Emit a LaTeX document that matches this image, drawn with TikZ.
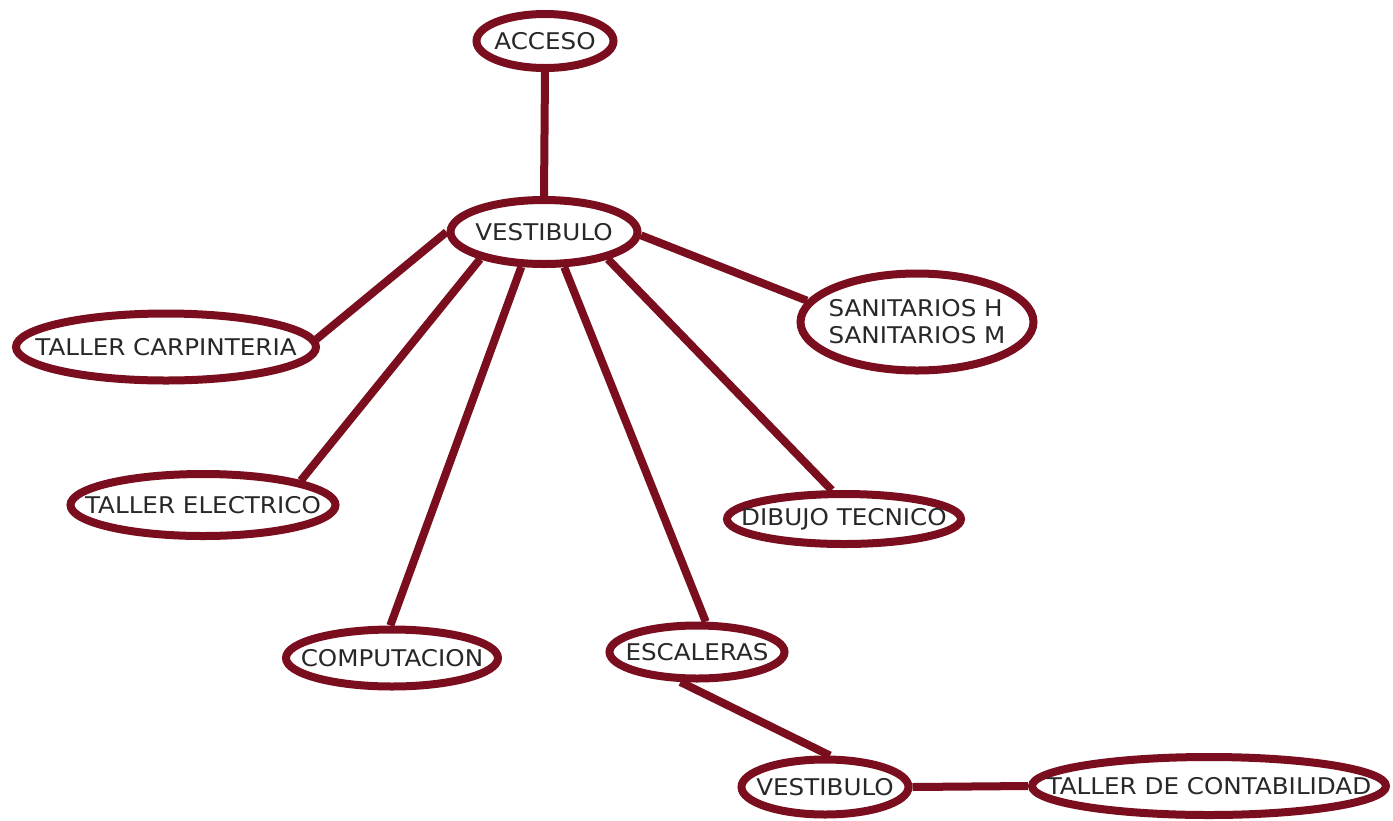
\documentclass[tikz,border=0pt]{standalone}
\usepackage{fontspec}
\setmainfont{DejaVu Sans}[FakeStretch=1.07]
\usetikzlibrary{shapes.geometric}
\definecolor{wine}{RGB}{122,14,30}
\definecolor{ink}{RGB}{40,40,40}
\begin{document}
\begin{tikzpicture}[x=1pt,y=-1pt,
  ell/.style={ellipse,draw=wine,line width=8pt,fill=white,inner sep=0pt},
  txt/.style={text=ink,font=\fontsize{23}{27}\selectfont,inner sep=0pt,align=left},
  link/.style={draw=wine,line width=8pt}]
\useasboundingbox (0,0) rectangle (1393,820);
\fill[white] (0,0) rectangle (1393,820);
\node[ell,minimum width=137pt,minimum height=54pt,label={[txt]center:ACCESO}] (acc) at (545,41) {};
\node[ell,minimum width=187pt,minimum height=64pt,label={[txt]center:VESTIBULO}] (v1) at (544,232) {};
\node[ell,minimum width=233pt,minimum height=97pt,label={[txt]center:SANITARIOS H\\SANITARIOS M}] (san) at (917,322) {};
\node[ell,minimum width=300pt,minimum height=67pt,label={[txt]center:TALLER CARPINTERIA}] (car) at (166,347) {};
\node[ell,minimum width=265pt,minimum height=62pt,label={[txt]center:TALLER ELECTRICO}] (ele) at (203,505) {};
\node[ell,minimum width=234pt,minimum height=50pt,label={[txt]center:DIBUJO TECNICO}] (dib) at (844,519) {};
\node[ell,minimum width=212pt,minimum height=57pt,label={[txt]center:COMPUTACION}] (com) at (392,658) {};
\node[ell,minimum width=175pt,minimum height=53pt,label={[txt]center:ESCALERAS}] (esc) at (697,652) {};
\node[ell,minimum width=167pt,minimum height=55pt,label={[txt]center:VESTIBULO}] (v2) at (825,787) {};
\node[ell,minimum width=354pt,minimum height=58pt,label={[txt]center:TALLER DE CONTABILIDAD}] (con) at (1209,786) {};
\path[link] (acc.south) -- (v1.north);
\path[link] (v1.180) -- (car.3);
\path[link] (v1.203) -- (ele.14);
\path[link] (v1.237) -- (com.93);
\path[link] (v1.300) -- (esc.74);
\path[link] (v1.337) -- (dib.113);
\path[link] (v1.358) -- (san.169);
\path[link] (esc.241) -- (v2.81);
\path[link] (v2.east) -- (con.west);
\end{tikzpicture}
\end{document}
